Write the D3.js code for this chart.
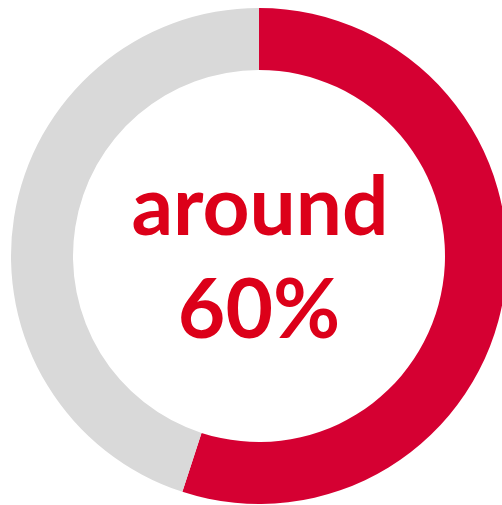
<!DOCTYPE html>
<html><head><meta charset="utf-8">
<script src="https://cdn.jsdelivr.net/npm/d3@7"></script>
<style>html,body{margin:0;padding:0;background:#fff;overflow:hidden}</style>
</head><body>
<svg id="c" width="502" height="505"></svg>
<script>
const categories = ["share", "rest"];
const values = [55, 45];
const colors = ["#D50032", "#D9D9D9"];
const labelLines = ["around", "60%"];

const svg = d3.select("#c");
const cx = 259, cy = 256, outerR = 248, innerR = 186;
const g = svg.append("g").attr("transform", `translate(${cx},${cy})`);
const pie = d3.pie().sort(null).value(d => d)(values);
const arc = d3.arc().innerRadius(innerR).outerRadius(outerR);
g.selectAll("path").data(pie).enter().append("path")
  .attr("d", arc).attr("fill", (d, i) => colors[i]);

const t = svg.append("g").attr("font-family", "Lato, 'Open Sans', sans-serif")
  .attr("font-weight", "bold").attr("fill", "#DC0019").attr("text-anchor", "middle");
t.append("text").attr("x", 260).attr("y", 235).attr("font-size", 82).text(labelLines[0]);
t.append("text").attr("x", 259).attr("y", 338).attr("font-size", 82).text(labelLines[1]);
</script>
</body></html>
